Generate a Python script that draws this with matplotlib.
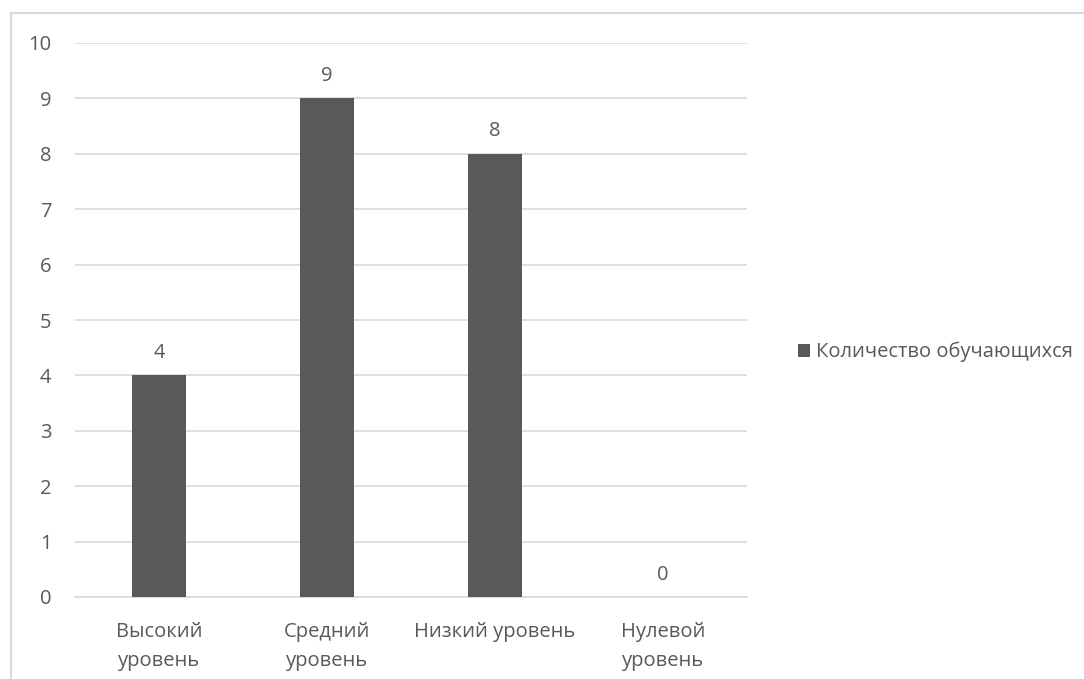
import matplotlib
matplotlib.use("Agg")
import matplotlib.pyplot as plt
from matplotlib.lines import Line2D
import numpy as np

categories = ["Высокий\nуровень", "Средний\nуровень", "Низкий уровень", "Нулевой\nуровень"]
counts = [4, 9, 8, 0]
series_name = "Количество обучающихся"
y_ticks = list(range(0, 11))

BAR = "#595959"
TEXT = "#595959"
GRID = "#d9d9d9"

plt.rcParams['font.family'] = ['Open Sans', 'DejaVu Sans']

fig = plt.figure(figsize=(10.84, 6.79), dpi=100)
ax = fig.add_axes([75 / 1084, 1 - 597 / 679, 672 / 1084, 554 / 679])

x = np.arange(len(categories))
bars = ax.bar(x, counts, width=0.32, color=BAR, zorder=3, label=series_name)

for xi, v in zip(x, counts):
    ax.annotate(str(v), (xi, v), xytext=(0, 9), textcoords="offset points",
                ha='center', va='bottom', fontsize=14.5, color=TEXT)

ax.set_xlim(-0.5, len(categories) - 0.5)
ax.set_ylim(0, 10)
ax.set_yticks(y_ticks)
ax.set_xticks(x)
ax.set_xticklabels(categories, fontsize=14.5, color=TEXT, linespacing=1.6)
ax.tick_params(axis='y', length=0, pad=17, labelsize=14.5, labelcolor=TEXT)
ax.tick_params(axis='x', length=0, pad=18)
ax.grid(axis='y', color=GRID, linewidth=1.2, zorder=0)
for side in ['top', 'right', 'left']:
    ax.spines[side].set_visible(False)
ax.spines['bottom'].set_color(GRID)
ax.spines['bottom'].set_linewidth(1.2)

ax.legend(loc='center left', bbox_to_anchor=(788 / 1084, 1 - 352 / 679),
          bbox_transform=fig.transFigure, frameon=False, fontsize=14.5,
          handlelength=0.6, handleheight=0.6, handletextpad=0.3,
          labelcolor=TEXT, borderpad=0)

# outer chart frame (left and top edges only)
fig.add_artist(Line2D([11 / 1084, 11 / 1084], [0, 1 - 13 / 679],
                      transform=fig.transFigure, color=GRID, linewidth=1.5))
fig.add_artist(Line2D([11 / 1084, 1], [1 - 13 / 679, 1 - 13 / 679],
                      transform=fig.transFigure, color=GRID, linewidth=1.5))

fig.savefig("out.png", dpi=100, facecolor='white')
